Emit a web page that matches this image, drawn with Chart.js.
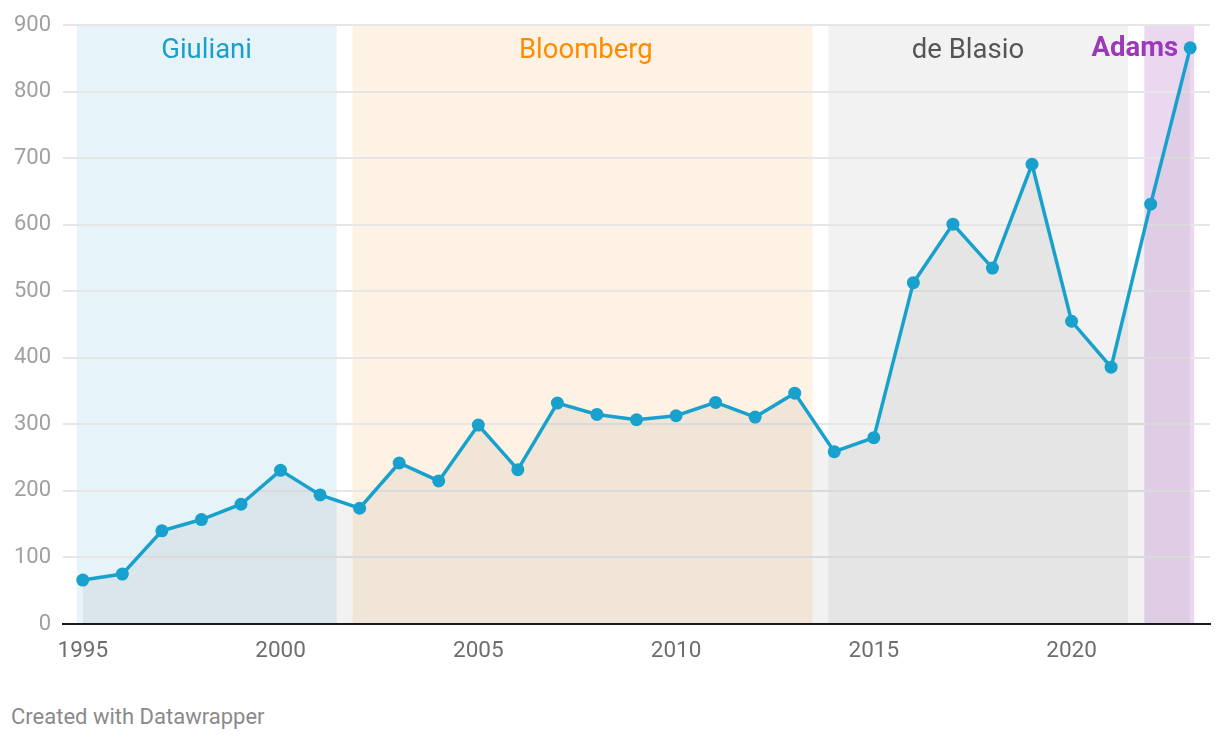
<!DOCTYPE html>
<html>
<head>
<meta charset="utf-8">
<script src="https://cdn.jsdelivr.net/npm/chart.js@4.4.1/dist/chart.umd.min.js"></script>
<style>
  html, body { margin: 0; padding: 0; background: #ffffff; }
  body { width: 1220px; height: 740px; position: relative; overflow: hidden; font-family: Roboto, "Noto Sans", sans-serif; }
  #wrap { position: absolute; left: 0; top: 0; width: 1220px; height: 700px; }
  #footer { position: absolute; left: 11px; top: 704px; font-size: 22px; color: #8a8a8a; font-family: Roboto, sans-serif; }
</style>
</head>
<body>
<div id="wrap"><canvas id="c"></canvas></div>
<div id="footer">Created with Datawrapper</div>
<script>
// ---- data ----
const years = [1995,1996,1997,1998,1999,2000,2001,2002,2003,2004,2005,2006,2007,2008,2009,2010,2011,2012,2013,2014,2015,2016,2017,2018,2019,2020,2021,2022,2023];
const values = [66,75,140,157,180,231,194,174,242,215,299,232,332,315,307,313,333,311,347,259,280,513,601,535,691,455,386,631,866];
const xTickLabels = [1995,2000,2005,2010,2015,2020];
const yTickLabels = [0,100,200,300,400,500,600,700,800,900];
const mayorNames = ["Giuliani","Bloomberg","de Blasio","Adams"];
const mayorStart = [1994.85, 2001.82, 2013.85, 2021.84];
const mayorEnd   = [2001.42, 2013.45, 2021.43, 2023.1];
const mayorLabelAt = [1998.13, 2007.72, 2017.38, 2022.7];

// ---- styles ----
const bandColors = ["#e6f3f9", "#fef2e4", "#f2f2f2", "#ead8f1"];
const labelColors = ["#1a9fcc", "#ff8c00", "#555555", "#9b39b8"];

const bandsPlugin = {
  id: 'bands',
  beforeDraw(chart) {
    const {ctx, chartArea, scales} = chart;
    const x = scales.x, y = scales.y;
    ctx.save();
    for (let i = 0; i < mayorNames.length; i++) {
      const x0 = x.getPixelForValue(mayorStart[i]);
      const x1 = x.getPixelForValue(mayorEnd[i]);
      const yTop = y.getPixelForValue(900);
      ctx.fillStyle = bandColors[i];
      ctx.fillRect(x0, yTop, x1 - x0, chartArea.bottom - yTop);
    }
    ctx.restore();
  },
  afterDatasetsDraw(chart) {
    const {ctx, scales} = chart;
    const x = scales.x;
    ctx.save();
    ctx.textBaseline = 'alphabetic';
    for (let i = 0; i < mayorNames.length; i++) {
      const px = x.getPixelForValue(mayorLabelAt[i]);
      ctx.fillStyle = labelColors[i];
      if (i === 3) {
        ctx.font = 'bold 27.5px Roboto';
        ctx.textAlign = 'right';
        ctx.fillText(mayorNames[i], x.getPixelForValue(mayorEnd[i]) - 16, 56);
      } else {
        ctx.font = '27.5px Roboto';
        ctx.textAlign = 'center';
        ctx.fillText(mayorNames[i], px, 58);
      }
    }
    ctx.restore();
  }
};

const chart = new Chart(document.getElementById('c'), {
  type: 'line',
  data: {
    datasets: [{
      data: years.map((yr, i) => ({x: yr, y: values[i]})),
      borderColor: '#18a1cd',
      backgroundColor: 'rgba(0,0,0,0.05)',
      fill: 'origin',
      borderWidth: 3.5,
      pointRadius: 6.5,
      pointBackgroundColor: '#18a1cd',
      pointBorderWidth: 0,
      pointHoverRadius: 6.5,
      tension: 0
    }]
  },
  options: {
    responsive: true,
    maintainAspectRatio: false,
    animation: false,
    events: [],
    layout: { padding: { left: 0, right: 10, top: 24, bottom: 0 } },
    plugins: { legend: { display: false }, tooltip: { enabled: false } },
    scales: {
      x: {
        type: 'linear',
        min: 1994.5,
        max: 2023.5,
        afterBuildTicks(scale) { scale.ticks = xTickLabels.map(v => ({value: v})); },
        afterFit(scale) { scale.height = 76; },
        grid: { display: false, drawTicks: false },
        border: { display: true, color: '#1a1a1a', width: 2 },
        ticks: {
          callback: v => String(v),
          color: '#6e6e6e',
          font: { family: 'Roboto', size: 22.5 },
          padding: 14,
          maxRotation: 0,
          autoSkip: false
        }
      },
      y: {
        min: 0,
        max: 900,
        afterBuildTicks(scale) { scale.ticks = yTickLabels.map(v => ({value: v})); },
        afterFit(scale) { scale.width = 63; },
        grid: { color: '#e6e6e6', lineWidth: 2, drawTicks: false },
        border: { display: false },
        ticks: {
          color: '#a0a0a0',
          font: { family: 'Roboto', size: 22 },
          padding: 12,
          callback: v => String(v)
        }
      }
    }
  },
  plugins: [bandsPlugin]
});
</script>
</body>
</html>
